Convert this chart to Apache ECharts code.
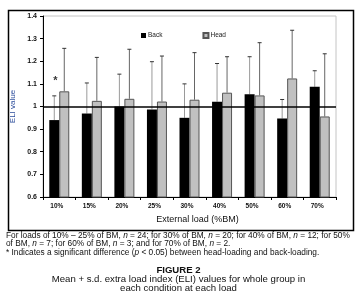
<!DOCTYPE html>
<html>
<head>
<meta charset="utf-8">
<script src="https://cdn.jsdelivr.net/npm/echarts@6/dist/echarts.min.js"></script>
<style>
  html, body { margin: 0; padding: 0; background: #fff; }
  #chart { width: 357px; height: 304px; }
</style>
</head>
<body>
<div id="chart"></div>
<script>
// load categories
const loads = ["10%", "15%", "20%", "25%", "30%", "40%", "50%", "60%", "70%"];
// mean ELI values
const backMean = [0.94, 0.969, 1.0, 0.987, 0.95, 1.021, 1.054, 0.947, 1.087];
const headMean = [1.067, 1.025, 1.034, 1.022, 1.03, 1.061, 1.049, 1.124, 0.956];
// s.d. (only drawn upward)
const backSd = [0.107, 0.135, 0.143, 0.211, 0.15, 0.169, 0.166, 0.084, 0.071];
const headSd = [0.19, 0.192, 0.219, 0.201, 0.208, 0.159, 0.233, 0.213, 0.277];
// significant difference marker
const sigMarks = [["10%", 1.12]];
const yTicks = { min: 0.6, max: 1.4, step: 0.1 };

const font = "Liberation Sans, Arial, sans-serif";
const chart = echarts.init(document.getElementById("chart"));

// error bar: line up from the mean, cap on top
function errorBar(offset, lineColor) {
  return function (params, api) {
    const base = api.coord([api.value(0), api.value(1)]);
    const top = api.coord([api.value(0), api.value(2)]);
    const x = base[0] + offset;
    return {
      type: "group",
      children: [
        { type: "line", shape: { x1: x, y1: base[1], x2: x, y2: top[1] },
          style: { stroke: lineColor, lineWidth: 1 } },
        { type: "line", shape: { x1: x - 2, y1: top[1], x2: x + 2, y2: top[1] },
          style: { stroke: "#333", lineWidth: 1 } }
      ]
    };
  };
}

const capSize = 8.3;
const rich = {
  i: { fontStyle: "italic", fontSize: capSize, fontFamily: font, fill: "#111" }
};
function caption(text, y) {
  return {
    type: "text", left: 6, top: y,
    style: { text: text, fontSize: capSize, fontFamily: font, fill: "#111", rich: rich }
  };
}

chart.setOption({
  animation: false,
  backgroundColor: "#fff",
  textStyle: { fontFamily: font },
  grid: { left: 43, right: 21, top: 16, bottom: 107, show: true,
    borderColor: "#c4c4c4", borderWidth: 1 },
  legend: {
    data: ["Back", "Head"], left: 136, top: 27, itemWidth: 5, itemHeight: 5,
    itemGap: 40, icon: "rect",
    textStyle: { fontSize: 6.5, color: "#222", fontFamily: font, padding: [0, 0, 0, -3] }
  },
  xAxis: {
    type: "category", data: loads,
    name: "External load (%BM)", nameLocation: "middle", nameGap: 17,
    nameTextStyle: { fontSize: 9, color: "#111", padding: [0, 0, 0, 16] },
    axisLine: { lineStyle: { color: "#000", width: 1 } },
    axisTick: { show: true, length: 3, lineStyle: { color: "#000" } },
    axisLabel: { fontSize: 6.5, fontWeight: "bold", color: "#111", margin: 6,
      padding: [0, 5, 0, 0] }
  },
  yAxis: {
    type: "value", min: yTicks.min, max: yTicks.max, interval: yTicks.step,
    name: "ELI value", nameLocation: "middle", nameGap: 26,
    nameTextStyle: { fontSize: 8, color: "#2b4c9b" },
    axisLine: { show: true, lineStyle: { color: "#000", width: 1 } },
    axisTick: { show: true, length: 3, lineStyle: { color: "#000" } },
    axisLabel: { fontSize: 7, fontWeight: "bold", color: "#111", margin: 6 },
    splitLine: { show: false }
  },
  series: [
    {
      name: "Back", type: "bar", data: backMean, barWidth: 10, barGap: "0%",
      itemStyle: { color: "#000" },
      markLine: {
        silent: true, symbol: "none", label: { show: false },
        lineStyle: { color: "#000", width: 1.5, type: "solid" },
        data: [{ yAxis: 1 }]
      }
    },
    {
      name: "Head", type: "bar", data: headMean, barWidth: 10,
      itemStyle: { color: "#c0c0c0", borderColor: "#555", borderWidth: 1 }
    },
    {
      type: "custom", renderItem: errorBar(-5, "#9a9a9a"), z: 1,
      data: backMean.map((v, i) => [i, v, v + backSd[i]])
    },
    {
      type: "custom", renderItem: errorBar(5, "#666"), z: 1,
      data: headMean.map((v, i) => [i, v, v + headSd[i]])
    },
    {
      type: "scatter", data: sigMarks, symbolSize: 0,
      label: { show: true, formatter: "*", position: "inside", offset: [-4, 2],
        fontSize: 11, fontWeight: "bold", color: "#000" }
    }
  ],
  graphic: [
    { type: "rect", left: 6, top: 8,
      shape: { width: 345, height: 220 },
      style: { fill: "none", stroke: "#000", lineWidth: 1.5 } },
    caption("For loads of 10% \u2013 25% of BM, {i|n} = 24; for 30% of BM, {i|n} = 20; for 40% of BM, {i|n} = 12; for 50%", 231.5),
    caption("of BM, {i|n} = 7; for 60% of BM, {i|n} = 3; and for 70% of BM, {i|n} = 2.", 240),
    caption("* Indicates a significant difference ({i|p} < 0.05) between head-loading and back-loading.", 249),
    { type: "text", left: "center", top: 265,
      style: { text: "FIGURE 2", fontSize: 9.6, fontWeight: "bold", fontFamily: font, fill: "#111" } },
    { type: "text", left: "center", top: 274.5,
      style: { text: "Mean + s.d. extra load index (ELI) values for whole group in", fontSize: 9.6, fontFamily: font, fill: "#111" } },
    { type: "text", left: "center", top: 283.5,
      style: { text: "each condition at each load", fontSize: 9.6, fontFamily: font, fill: "#111" } }
  ]
});
</script>
</body>
</html>
